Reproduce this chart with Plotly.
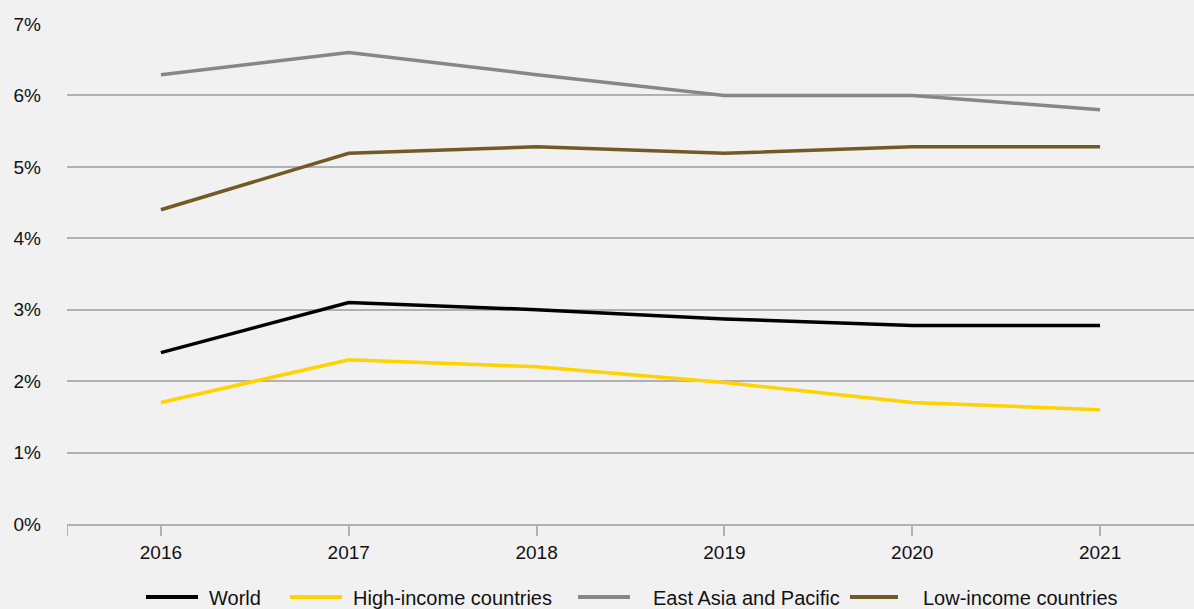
import plotly.graph_objects as go

# Annual rates by region, 2016-2021 (percent)
years = ["2016", "2017", "2018", "2019", "2020", "2021"]
world = [2.4, 3.1, 3.0, 2.87, 2.78, 2.78]
high_income = [1.7, 2.3, 2.2, 1.98, 1.7, 1.6]
east_asia_pacific = [6.29, 6.6, 6.29, 6.0, 6.0, 5.8]
low_income = [4.4, 5.19, 5.28, 5.19, 5.28, 5.28]

y_ticks = [0, 1, 2, 3, 4, 5, 6, 7]
y_labels = [f"{v}%" for v in y_ticks]

series_names = ["World", "High-income countries", "East Asia and Pacific", "Low-income countries"]
series_values = [world, high_income, east_asia_pacific, low_income]
series_colors = ["#000000", "#ffd200", "#87878a", "#725a24"]

BG = "#f1f1f1"
GRID = "#b1b1b3"
FONT = "Liberation Sans, Arial, sans-serif"

W, H = 1194, 609
ML, MR, MT, MB = 67, 0, 24, 85
PW, PH = W - ML - MR, H - MT - MB


def px_x(p):
    """Pixel x -> paper x."""
    return (p - ML) / PW


def px_y(p):
    """Pixel y (from top) -> paper y."""
    return (H - MB - p) / PH


fig = go.Figure()
for name, vals, color in zip(series_names, series_values, series_colors):
    fig.add_trace(go.Scatter(
        x=years, y=vals, name=name, mode="lines",
        line=dict(color=color, width=3.5),
        hoverinfo="skip", showlegend=False,
    ))

# Legend row below the axis: swatch line followed by its label
legend_swatch = [(146, 198), (290, 342), (578, 630), (850, 898)]
legend_text_x = [207, 351, 651, 921]
legend_row_y = 598

shapes = [
    # left boundary tick below the axis
    dict(type="line", xref="x", yref="paper", x0=-0.5, x1=-0.5,
         y0=0, y1=-0.024, line=dict(color=GRID, width=2)),
]
annotations = []
for name, color, (x0, x1), tx in zip(series_names, series_colors, legend_swatch, legend_text_x):
    shapes.append(dict(
        type="line", xref="paper", yref="paper",
        x0=px_x(x0), x1=px_x(x1), y0=px_y(legend_row_y - 1), y1=px_y(legend_row_y - 1),
        line=dict(color=color, width=4),
    ))
    annotations.append(dict(
        text=name, xref="paper", yref="paper", x=px_x(tx), y=px_y(legend_row_y),
        xanchor="left", yanchor="middle", showarrow=False,
        font=dict(family=FONT, size=20, color="#111111"),
    ))

fig.update_layout(
    width=W, height=H,
    margin=dict(l=ML, r=MR, t=MT, b=MB, autoexpand=False),
    paper_bgcolor=BG, plot_bgcolor=BG,
    font=dict(family=FONT, size=19, color="#111111"),
    showlegend=False,
    xaxis=dict(
        type="category", range=[-0.5, 5.5],
        showgrid=False, showline=True, linecolor=GRID, linewidth=2,
        ticks="outside", ticklen=10, tickwidth=2, tickcolor=GRID,
        tickfont=dict(size=19), zeroline=False, fixedrange=True,
    ),
    yaxis=dict(
        range=[0, 7], tickvals=y_ticks, ticktext=y_labels,
        showgrid=True, gridcolor=GRID, gridwidth=2,
        showline=False, zeroline=False, ticks="",
        ticklabelstandoff=25, tickfont=dict(size=19), fixedrange=True,
    ),
    shapes=shapes,
    annotations=annotations,
)

fig.write_html("out.html")
